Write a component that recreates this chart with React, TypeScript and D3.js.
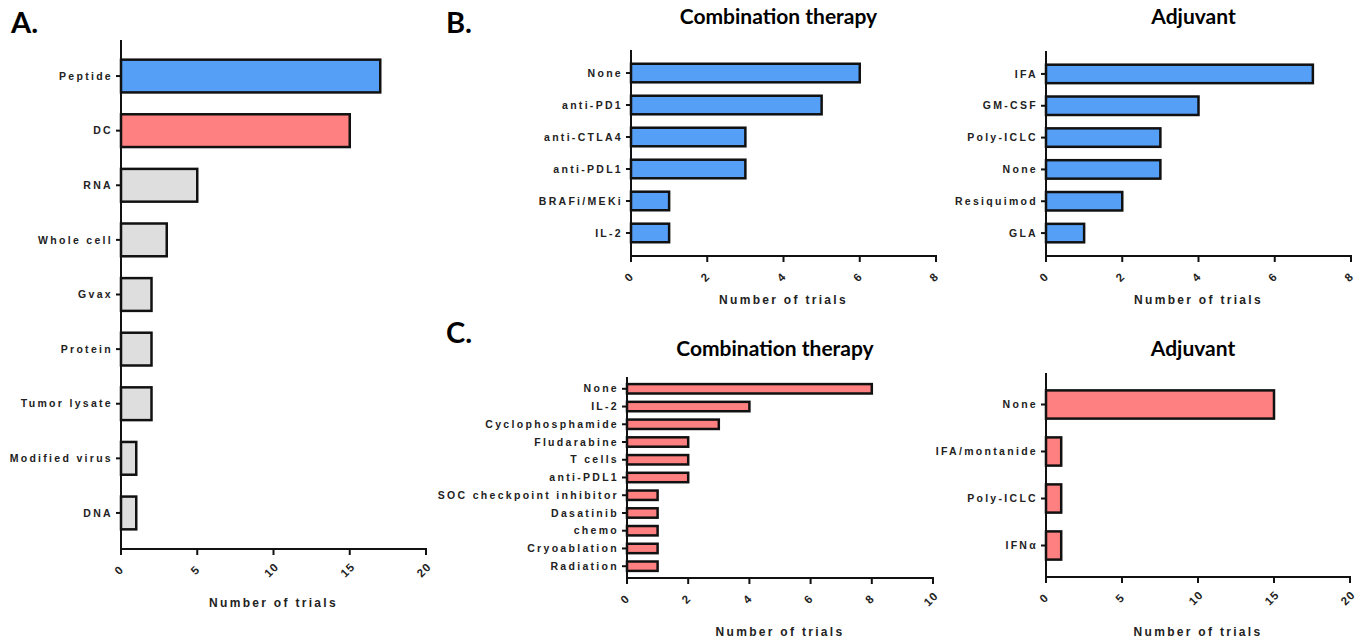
import React from "react";
import * as d3 from "d3";

// A. vaccine platform
const platformNames = ["Peptide", "DC", "RNA", "Whole cell", "Gvax", "Protein", "Tumor lysate", "Modified virus", "DNA"];
const platformTrials = [17, 15, 5, 3, 2, 2, 2, 1, 1];
const platformTicks = [0, 5, 10, 15, 20];

// B. peptide vaccines
const peptideComboNames = ["None", "anti-PD1", "anti-CTLA4", "anti-PDL1", "BRAFi/MEKi", "IL-2"];
const peptideComboTrials = [6, 5, 3, 3, 1, 1];
const peptideAdjNames = ["IFA", "GM-CSF", "Poly-ICLC", "None", "Resiquimod", "GLA"];
const peptideAdjTrials = [7, 4, 3, 3, 2, 1];
const peptideTicks = [0, 2, 4, 6, 8];

// C. DC vaccines
const dcComboNames = ["None", "IL-2", "Cyclophosphamide", "Fludarabine", "T cells", "anti-PDL1", "SOC checkpoint inhibitor", "Dasatinib", "chemo", "Cryoablation", "Radiation"];
const dcComboTrials = [8, 4, 3, 2, 2, 2, 1, 1, 1, 1, 1];
const dcComboTicks = [0, 2, 4, 6, 8, 10];
const dcAdjNames = ["None", "IFA/montanide", "Poly-ICLC", "IFN\u03b1"];
const dcAdjTrials = [15, 1, 1, 1];
const dcAdjTicks = [0, 5, 10, 15, 20];

const BLUE = "#559ff7";
const RED = "#ff8080";
const GRAY = "#dedede";
const labelFont = "'Liberation Sans', Arial, sans-serif";
const titleFont = "Lato, 'Open Sans', sans-serif";

type PanelProps = {
  names: string[];
  values: number[];
  ticks: number[];
  left: number;
  right: number;
  top: number;
  bottom: number;
  padIn: number;
  padOut: number;
  fill: (name: string) => string;
  title?: string;
  titleY?: number;
  axisTitleY: number;
};

function Panel(p: PanelProps) {
  const x = d3.scaleLinear().domain([0, p.ticks[p.ticks.length - 1]]).range([p.left, p.right]);
  const y = d3.scaleBand<string>().domain(p.names).range([p.top, p.bottom]).paddingInner(p.padIn).paddingOuter(p.padOut);
  const mid = (p.left + p.right) / 2;
  return (
    <g>
      {p.title && (
        <text x={mid - 5} y={p.titleY} textAnchor="middle" fontFamily={titleFont} fontWeight="bold" fontSize={21}>
          {p.title}
        </text>
      )}
      {p.names.map((n, i) => (
        <g key={n}>
          <rect
            x={x(0)}
            y={y(n)}
            width={x(p.values[i]) - x(0)}
            height={y.bandwidth()}
            fill={p.fill(n)}
            stroke="#111"
            strokeWidth={2.5}
          />
          <line x1={p.left - 5} x2={p.left} y1={y(n)! + y.bandwidth() / 2} y2={y(n)! + y.bandwidth() / 2} stroke="#111" strokeWidth={2} />
          <text
            x={p.left - 8}
            y={y(n)! + y.bandwidth() / 2}
            dy="0.35em"
            textAnchor="end"
            fontFamily={labelFont}
            fontWeight="bold"
            fontSize={10.5}
            letterSpacing={2.3}
            fill="#222"
          >
            {n}
          </text>
        </g>
      ))}
      <line x1={p.left} x2={p.left} y1={p.top} y2={p.bottom + 1} stroke="#111" strokeWidth={2} />
      <line x1={p.left - 1} x2={p.right + 1} y1={p.bottom} y2={p.bottom} stroke="#111" strokeWidth={2} />
      {p.ticks.map((t) => (
        <g key={t}>
          <line x1={x(t)} x2={x(t)} y1={p.bottom} y2={p.bottom + 6} stroke="#111" strokeWidth={2} />
          <text
            transform={`translate(${x(t) - 2},${p.bottom + 21}) rotate(-45)`}
            textAnchor="middle"
            dy="0.35em"
            fontFamily={labelFont}
            fontWeight="bold"
            fontSize={11.5}
            letterSpacing={1}
            fill="#222"
          >
            {t}
          </text>
        </g>
      ))}
      <text x={mid} y={p.axisTitleY} textAnchor="middle" fontFamily={labelFont} fontWeight="bold" fontSize={12} letterSpacing={2.3} fill="#222">
        Number of trials
      </text>
    </g>
  );
}

export default function App() {
  const platformFill = (n: string) => (n === "Peptide" ? BLUE : n === "DC" ? RED : GRAY);
  return (
    <svg width={1366} height={643} style={{ position: "absolute", left: 0, top: 0, background: "#fff" }}>
      <text x={11} y={33} fontFamily={titleFont} fontWeight="bold" fontSize={29}>A.</text>
      <text x={446} y={33} fontFamily={titleFont} fontWeight="bold" fontSize={29}>B.</text>
      <text x={446} y={343} fontFamily={titleFont} fontWeight="bold" fontSize={29}>C.</text>

      <Panel names={platformNames} values={platformTrials} ticks={platformTicks}
        left={121} right={426} top={40} bottom={549} padIn={0.4} padOut={0.36}
        fill={platformFill} axisTitleY={607} />

      <Panel names={peptideComboNames} values={peptideComboTrials} ticks={peptideTicks}
        left={631} right={936} top={50} bottom={256} padIn={0.42} padOut={0.43}
        fill={() => BLUE} title="Combination therapy" titleY={24} axisTitleY={304} />

      <Panel names={peptideAdjNames} values={peptideAdjTrials} ticks={peptideTicks}
        left={1046} right={1351} top={51} bottom={256} padIn={0.42} padOut={0.43}
        fill={() => BLUE} title="Adjuvant" titleY={24} axisTitleY={304} />

      <Panel names={dcComboNames} values={dcComboTrials} ticks={dcComboTicks}
        left={627} right={933} top={377} bottom={578} padIn={0.47} padOut={0.4}
        fill={() => RED} title="Combination therapy" titleY={356} axisTitleY={636} />

      <Panel names={dcAdjNames} values={dcAdjTrials} ticks={dcAdjTicks}
        left={1046} right={1350} top={373} bottom={577} padIn={0.4} padOut={0.37}
        fill={() => RED} title="Adjuvant" titleY={356} axisTitleY={636} />
    </svg>
  );
}
